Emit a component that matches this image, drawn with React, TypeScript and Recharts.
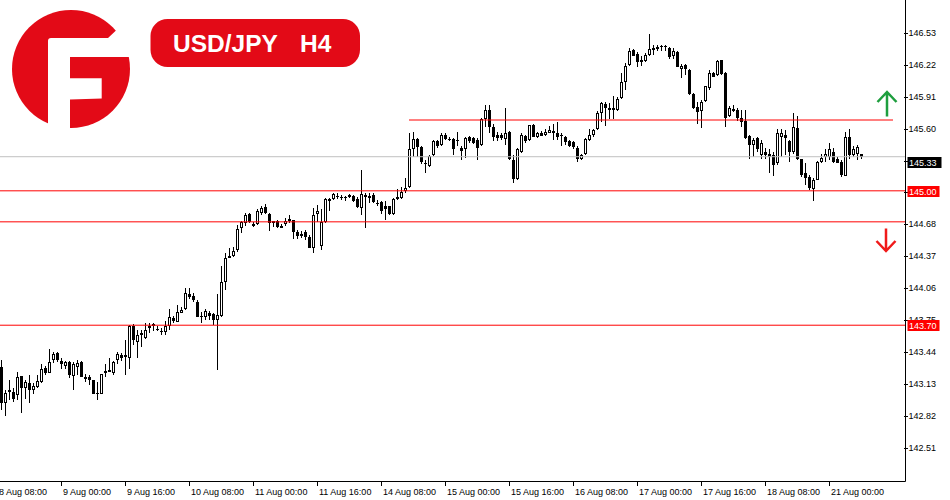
import React from 'react';
import { ComposedChart, Bar, XAxis, YAxis, ReferenceLine } from 'recharts';

const opens = [
  143.30,142.95,143.07,143.05,143.02,143.21,143.09,143.14,143.07,143.10,
  143.15,143.29,143.24,143.36,143.43,143.35,143.31,143.34,143.21,143.30,
  143.34,143.20,143.20,143.17,143.03,143.03,143.24,143.27,143.24,143.36,
  143.41,143.39,143.38,143.69,143.54,143.61,143.58,143.67,143.69,143.66,
  143.64,143.63,143.69,143.77,143.73,143.82,143.86,144.00,143.98,143.92,
  143.79,143.78,143.82,143.81,143.75,143.79,144.12,144.37,144.37,144.43,
  144.64,144.69,144.78,144.68,144.68,144.79,144.84,144.78,144.71,144.71,
  144.64,144.68,144.73,144.72,144.60,144.58,144.60,144.55,144.45,144.78,
  144.47,144.70,144.90,144.92,144.95,144.94,144.94,144.94,144.95,144.92,
  144.83,144.96,144.93,144.96,144.88,144.89,144.85,144.85,144.78,144.92,
  144.93,145.00,145.04,145.40,145.50,145.42,145.27,145.24,145.35,145.48,
  145.44,145.54,145.50,145.50,145.48,145.41,145.40,145.52,145.51,145.49,
  145.44,145.69,145.78,145.62,145.54,145.54,145.50,145.57,145.30,145.11,
  145.38,145.53,145.49,145.64,145.52,145.56,145.54,145.56,145.58,145.56,
  145.54,145.52,145.48,145.47,145.41,145.31,145.36,145.49,145.54,145.60,
  145.75,145.84,145.80,145.80,145.78,145.90,146.05,146.22,146.36,146.32,
  146.27,146.26,146.31,146.36,146.37,146.39,146.39,146.38,146.30,146.34,
  146.18,146.22,146.17,145.94,145.81,145.77,145.87,145.99,146.14,146.12,
  146.27,146.14,145.72,145.77,145.78,145.70,145.68,145.53,145.44,145.51,
  145.35,145.38,145.36,145.35,145.27,145.52,145.54,145.48,145.38,145.61,
  145.31,145.17,145.13,145.02,145.10,145.28,145.33,145.33,145.38,145.31,
  145.28,145.14,145.52,145.35,145.36,145.36,
];

const highs = [
  143.36,143.07,143.17,143.09,143.25,143.21,143.17,143.22,143.14,143.22,
  143.32,143.31,143.47,143.44,143.44,143.38,143.35,143.35,143.34,143.36,
  143.35,143.23,143.22,143.17,143.15,143.23,143.32,143.38,143.35,143.44,
  143.43,143.56,143.70,143.71,143.65,143.65,143.72,143.72,143.72,143.69,
  143.67,143.74,143.86,143.79,143.90,143.88,144.06,144.06,144.01,143.94,
  143.83,143.86,143.84,143.82,144.00,144.27,144.40,144.45,144.46,144.67,
  144.71,144.79,144.79,144.70,144.82,144.85,144.87,144.79,144.71,144.72,
  144.68,144.74,144.77,144.72,144.62,144.61,144.62,144.57,144.83,144.86,
  144.82,144.93,144.93,144.98,144.98,144.96,144.95,144.97,144.96,144.94,
  145.20,144.98,144.98,144.98,144.91,144.90,144.90,144.85,144.93,145.02,
  145.04,145.12,145.56,145.57,145.51,145.43,145.30,145.35,145.49,145.49,
  145.56,145.56,145.52,145.51,145.57,145.43,145.52,145.53,145.52,145.51,
  145.70,145.83,145.83,145.65,145.57,145.56,145.80,145.58,145.35,145.41,
  145.56,145.54,145.64,145.65,145.57,145.58,145.60,145.63,145.65,145.67,
  145.56,145.53,145.49,145.48,145.43,145.36,145.51,145.60,145.60,145.77,
  145.86,145.86,145.85,145.92,145.91,146.14,146.24,146.38,146.37,146.34,
  146.30,146.33,146.52,146.41,146.41,146.41,146.41,146.39,146.38,146.35,
  146.23,146.23,146.18,145.95,145.86,145.88,146.01,146.17,146.15,146.27,
  146.27,146.15,145.82,145.83,145.80,145.78,145.78,145.54,145.51,145.52,
  145.49,145.41,145.40,145.38,145.60,145.60,145.59,145.49,145.75,145.72,
  145.31,145.27,145.15,145.12,145.29,145.36,145.40,145.46,145.41,145.33,
  145.30,145.57,145.60,145.43,145.44,145.36,
];

const lows = [
  142.88,142.82,142.98,142.96,142.98,142.85,142.99,142.95,143.03,143.09,
  143.14,143.22,143.24,143.33,143.34,143.28,143.28,143.19,143.07,143.22,
  143.20,143.15,143.12,143.03,142.98,143.03,143.20,143.25,143.22,143.32,
  143.35,143.22,143.28,143.51,143.38,143.49,143.57,143.62,143.64,143.64,
  143.61,143.61,143.65,143.72,143.73,143.82,143.85,143.95,143.92,143.78,
  143.72,143.75,143.75,143.70,143.27,143.78,144.04,144.35,144.36,144.41,
  144.59,144.66,144.69,144.65,144.67,144.77,144.78,144.61,144.65,144.64,
  144.64,144.66,144.69,144.53,144.53,144.54,144.52,144.45,144.40,144.70,
  144.43,144.69,144.80,144.91,144.92,144.91,144.90,144.93,144.89,144.83,
  144.77,144.64,144.88,144.88,144.85,144.78,144.72,144.77,144.77,144.91,
  144.92,144.98,145.03,145.33,145.33,145.26,145.17,145.23,145.34,145.41,
  145.43,145.49,145.48,145.35,145.43,145.30,145.32,145.46,145.45,145.30,
  145.43,145.62,145.56,145.48,145.48,145.49,145.44,145.30,145.08,145.10,
  145.37,145.46,145.48,145.52,145.51,145.53,145.53,145.56,145.49,145.49,
  145.43,145.44,145.42,145.40,145.28,145.30,145.35,145.48,145.52,145.59,
  145.67,145.63,145.69,145.69,145.77,145.89,145.98,146.21,146.30,146.20,
  146.21,146.25,146.30,146.31,146.35,146.35,146.35,146.28,146.28,146.20,
  146.09,146.12,145.93,145.79,145.65,145.61,145.86,145.98,146.10,146.11,
  146.12,145.62,145.71,145.76,145.68,145.62,145.50,145.31,145.33,145.38,
  145.31,145.31,145.17,145.14,145.25,145.33,145.35,145.28,145.36,145.30,
  145.13,145.06,145.01,144.90,145.10,145.27,145.28,145.30,145.27,145.27,
  145.13,145.14,145.31,145.33,145.30,145.31,
];

const closes = [
  142.95,143.04,143.05,142.99,143.20,143.09,143.15,143.07,143.11,143.16,
  143.28,143.24,143.34,143.42,143.36,143.32,143.34,143.22,143.32,143.33,
  143.20,143.18,143.17,143.03,143.04,143.23,143.26,143.25,143.34,143.42,
  143.38,143.41,143.69,143.56,143.61,143.62,143.65,143.69,143.71,143.65,
  143.63,143.69,143.78,143.74,143.83,143.85,144.01,143.97,143.94,143.78,
  143.78,143.84,143.79,143.75,143.80,144.12,144.35,144.35,144.42,144.63,
  144.70,144.77,144.70,144.66,144.80,144.83,144.79,144.69,144.69,144.65,
  144.66,144.71,144.71,144.60,144.56,144.56,144.55,144.45,144.77,144.80,
  144.70,144.92,144.92,144.97,144.94,144.94,144.93,144.96,144.90,144.84,
  144.97,144.94,144.95,144.89,144.87,144.80,144.82,144.78,144.92,144.94,
  144.99,145.03,145.40,145.50,145.42,145.28,145.26,145.34,145.48,145.43,
  145.54,145.50,145.49,145.40,145.49,145.39,145.51,145.48,145.46,145.41,
  145.69,145.78,145.62,145.52,145.51,145.51,145.56,145.31,145.11,145.40,
  145.54,145.48,145.64,145.52,145.56,145.53,145.57,145.59,145.56,145.52,
  145.53,145.47,145.43,145.42,145.31,145.35,145.50,145.54,145.59,145.75,
  145.85,145.80,145.78,145.78,145.89,146.05,146.21,146.35,146.30,146.25,
  146.25,146.31,146.37,146.38,146.39,146.40,146.40,146.29,146.35,146.20,
  146.21,146.18,145.94,145.80,145.76,145.86,146.01,146.14,146.10,146.26,
  146.13,145.70,145.80,145.79,145.70,145.67,145.51,145.44,145.49,145.40,
  145.46,145.35,145.33,145.25,145.56,145.56,145.51,145.38,145.62,145.31,
  145.15,145.12,145.03,145.10,145.28,145.32,145.36,145.40,145.28,145.27,
  145.15,145.52,145.35,145.40,145.42,145.33,
];

// x-axis time labels and the bar index each one sits on (-1 = the bar just left of the view)
const tickIndex = [-1, 15, 31, 47, 63, 79, 95, 111, 127, 143, 159, 175, 191, 207];
const tickLabels = [
  '8 Aug 08:00', '9 Aug 00:00', '9 Aug 16:00', '10 Aug 08:00', '11 Aug 00:00',
  '11 Aug 16:00', '14 Aug 08:00', '15 Aug 00:00', '15 Aug 16:00', '16 Aug 08:00',
  '17 Aug 00:00', '17 Aug 16:00', '18 Aug 08:00', '21 Aug 00:00',
];

const priceTicks = [142.51, 142.82, 143.13, 143.44, 143.75, 144.06, 144.37, 144.68, 144.99, 145.29, 145.60, 145.91, 146.22, 146.53];
const hiddenTickLabels = [144.99, 145.29];
const bidPrice = 145.33;
const levelLabels = [145.0, 143.7];
const levelLines = [145.0, 144.7, 143.7];
const resistance = 145.685;
const resistanceFrom = 102;
const resistanceTo = 223;
const emptySlots = 10;

const data = [
  ...opens.map((o, i) => ({ i, o, h: highs[i], l: lows[i], c: closes[i], range: [lows[i], highs[i]] })),
  ...Array.from({ length: emptySlots }, (_, k) => ({ i: opens.length + k })),
];

const RED = '#ff0000';
const FONT = '"Liberation Sans", Arial, sans-serif';

const Candle = (props: any) => {
  const { x, y, width, height, payload } = props;
  if (!payload || payload.o == null) return null;
  const { o, h, l, c } = payload;
  const py = (v: number) => y + ((h - v) / (h - l)) * height;
  const cx = Math.floor(x + width / 2);
  const yH = Math.round(py(h));
  const yL = Math.round(py(l));
  const yO = Math.round(py(o));
  const yC = Math.round(py(c));
  const top = Math.min(yO, yC);
  const bh = Math.max(1, Math.max(yO, yC) - top);
  return (
    <g shapeRendering="crispEdges">
      <rect x={cx} y={yH} width={1} height={Math.max(1, yL - yH)} fill="#000" />
      <rect x={cx - 1} y={top} width={3} height={bh} fill="#000" />
      {c > o && bh > 2 && <rect x={cx} y={top + 1} width={1} height={bh - 2} fill="#fff" />}
    </g>
  );
};

const XTick = (props: any) => {
  const { x, y, payload } = props;
  const v = payload.value;
  const k = tickIndex.indexOf(v);
  const band = x / (v + 0.5);
  const items: any[] = [];
  const add = (idx: number, px: number) => {
    const tx = Math.floor(px) + 0.5;
    items.push(
      <g key={idx}>
        <line x1={tx} x2={tx} y1={y} y2={y + 4} stroke="#000" strokeWidth={1} shapeRendering="crispEdges" />
        <text x={tx + 1.5} y={y + 13.5} fontFamily={FONT} fontSize={9} fill="#000">{tickLabels[idx]}</text>
      </g>
    );
  };
  add(k, x);
  if (k === 1) add(0, x - (v - tickIndex[0]) * band);
  return <g>{items}</g>;
};

const YTick = (props: any) => {
  const { x, y, payload } = props;
  const v = payload.value;
  if (v === bidPrice && props.index >= priceTicks.length) {
    return (
      <g>
        <rect x={x + 2} y={Math.round(y)} width={34} height={11} fill="#000" />
        <text x={x + 3.5} y={Math.round(y) + 8.8} fontFamily={FONT} fontSize={9} fill="#fff">{v.toFixed(2)}</text>
      </g>
    );
  }
  if (props.index >= priceTicks.length) {
    return (
      <g>
        <rect x={x + 2} y={Math.round(y) - 5} width={32} height={11} fill={RED} />
        <text x={x + 3.5} y={Math.round(y) + 3.8} fontFamily={FONT} fontSize={9} fill="#fff">{v.toFixed(2)}</text>
      </g>
    );
  }
  const ty = Math.round(y) + 0.5;
  return (
    <g>
      <line x1={x - 2} x2={x + 2} y1={ty} y2={ty} stroke="#000" strokeWidth={1} shapeRendering="crispEdges" />
      {!hiddenTickLabels.includes(v) && (
        <text x={x + 3} y={ty + 2.3} fontFamily={FONT} fontSize={9} fill="#000">{v.toFixed(2)}</text>
      )}
    </g>
  );
};

export default function App() {
  return (
    <div style={{ position: 'absolute', left: 0, top: 0, width: 950, height: 500, overflow: 'hidden', background: '#fff' }}>
      <div style={{ position: 'absolute', left: -1, top: 0 }}>
        <ComposedChart
          width={951}
          height={500}
          data={data}
          margin={{ top: 0, right: 0, bottom: 0, left: 0 }}
          barCategoryGap={0}
          barGap={0}
        >
          <XAxis
            dataKey="i"
            type="category"
            height={18.5}
            padding={{ left: 0, right: 2.5 }}
            ticks={tickIndex.filter((t) => t >= 0)}
            interval={0}
            tick={<XTick />}
            tickLine={false}
            tickSize={0}
            tickMargin={0}
            axisLine={{ stroke: '#000' }}
          />
          <YAxis
            type="number"
            orientation="right"
            width={44.5}
            domain={[142.188, 146.846]}
            allowDataOverflow
            ticks={[...priceTicks, bidPrice, ...levelLabels]}
            interval={0}
            tick={<YTick />}
            tickLine={false}
            tickSize={0}
            tickMargin={0}
            axisLine={{ stroke: '#000' }}
          />
          <ReferenceLine y={bidPrice} stroke="#c0c0c0" strokeWidth={1} />
          {levelLines.map((p) => (
            <ReferenceLine key={p} y={p} stroke={RED} strokeWidth={1} />
          ))}
          <ReferenceLine
            segment={[{ x: resistanceFrom, y: resistance }, { x: resistanceTo, y: resistance }]}
            stroke={RED}
            strokeWidth={1}
          />
          <Bar dataKey="range" shape={Candle} isAnimationActive={false} />
        </ComposedChart>
      </div>
      <svg width={950} height={500} style={{ position: 'absolute', left: 0, top: 0, pointerEvents: 'none' }}>
        <circle cx={71} cy={69} r={59} fill="#e30a17" />
        <path d="M48 136 L48 41 Q48 38 51 38 L108 38 L116 30.5 L140 30.5 L140 57 L70 57 L70 136 Z" fill="#fff" />
        <path d="M70 78.3 L101.7 78.3 L101.7 98.5 L70 99.5 Z" fill="#fff" />
        <rect x={150.5} y={19} width={209.5} height={48} rx={17} ry={17} fill="#e30a17" />
        <text x={173} y={52} fontFamily={FONT} fontWeight="bold" fontSize={24.5} fill="#fff">USD/JPY</text>
        <text x={300} y={52} fontFamily={FONT} fontWeight="bold" fontSize={24.5} fill="#fff">H4</text>
        <path d="M887 116.5 L887 92 M877.5 102 L887 92 L896.5 102" stroke="#1e9e3e" strokeWidth={2.5} fill="none" />
        <path d="M886 228.5 L886 251 M876.5 241 L886 251 L895.5 241" stroke="#f01a1a" strokeWidth={2.5} fill="none" />
      </svg>
    </div>
  );
}
